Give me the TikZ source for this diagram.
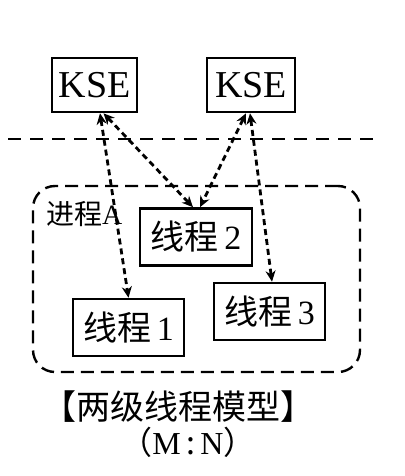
\documentclass[tikz,border=0pt]{standalone}
\usepackage{fontspec}
\setmainfont{Liberation Serif}
\newfontfamily\cjk{Noto Sans CJK SC}
\usetikzlibrary{arrows.meta,calc}
\begin{document}
\begin{tikzpicture}[x=1pt,y=-1pt,
  box/.style={draw,line width=2.6pt,minimum height=57pt,inner sep=0pt,font=\fontsize{34}{36}\selectfont},
  ksebox/.style={draw,line width=2.6pt,minimum height=54pt,inner sep=0pt,font=\fontsize{38}{40}\selectfont},
  link/.style={line width=2.8pt,dash pattern=on 6pt off 4pt,{Stealth[length=11pt,width=10pt]}-{Stealth[length=11pt,width=10pt]}},
  sep/.style={line width=2.2pt,dash pattern=on 13pt off 9pt}]
\useasboundingbox (0,0) rectangle (404,476);
\node[ksebox,minimum width=85pt] (kse1) at (94.5,85) {KSE};
\node[ksebox,minimum width=88pt] (kse2) at (251,85) {KSE};
\coordinate (hl1) at (8,139);
\coordinate (hl2) at (375,139);
\draw[sep] (hl1) -- (hl2);
\node[draw,line width=2.4pt,dash pattern=on 13pt off 7pt,rounded corners=22pt,minimum width=327pt,minimum height=186pt] (proc) at (196.5,279) {};
\node[font=\cjk\fontsize{28}{30}\selectfont,anchor=west,inner sep=0pt] (lbl) at (46,214) {进程\fontspec{Liberation Serif}A};
\node[box,minimum width=112pt] (t2) at (196,237) {{\cjk 线程}\,2};
\node[box,minimum width=111pt] (t1) at (128.5,327.5) {{\cjk 线程}\,1};
\node[box,minimum width=111pt] (t3) at (269.5,311.5) {{\cjk 线程}\,3};
\draw[link] ([xshift=5.5pt]kse1.south) -- (t1.north);
\draw[link] ([xshift=9pt]kse1.south) -- ([xshift=-3pt]t2.north);
\draw[link] ([xshift=-5pt]kse2.south) -- ([xshift=4pt]t2.north);
\draw[link] ([xshift=-1pt]kse2.south) -- ([xshift=2.5pt]t3.north);
\node[font=\cjk\fontsize{34}{36}\selectfont] (cap1) at (178,407) {【两级线程模型】};
\node[font=\fontsize{32}{34}\selectfont] (cap2) at (188,442) {{\cjk （}M\,{\cjk :}\,N{\cjk ）}};
\end{tikzpicture}
\end{document}
